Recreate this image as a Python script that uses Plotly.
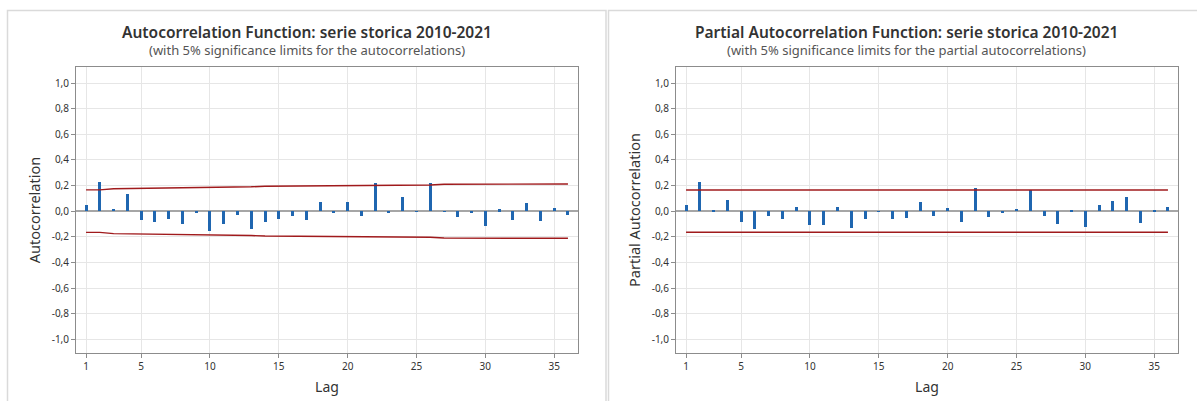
import plotly.graph_objects as go

# ---------------- data ----------------
lags = list(range(1, 37))

acf = [0.045, 0.225, 0.020, 0.135, -0.070, -0.088, -0.065, -0.098, -0.016, -0.157,
       -0.103, -0.032, -0.139, -0.083, -0.064, -0.040, -0.072, 0.072, -0.016, 0.075,
       -0.035, 0.216, -0.016, 0.109, -0.003, 0.219, -0.003, -0.043, -0.008, -0.112,
       0.013, -0.067, 0.064, -0.080, 0.024, -0.027]

acf_limit = [0.166, 0.166, 0.175, 0.176, 0.177, 0.178, 0.179, 0.180, 0.186, 0.187,
             0.188, 0.189, 0.190, 0.194, 0.195, 0.195, 0.196, 0.196, 0.197, 0.197,
             0.197, 0.198, 0.203, 0.203, 0.204, 0.204, 0.210, 0.210, 0.210, 0.211,
             0.211, 0.211, 0.211, 0.212, 0.212, 0.212]

pacf = [0.048, 0.225, 0.003, 0.085, -0.085, -0.139, -0.035, -0.064, 0.035, -0.107,
        -0.109, 0.029, -0.128, -0.059, -0.003, -0.061, -0.056, 0.072, -0.037, 0.024,
        -0.085, 0.181, -0.043, -0.010, 0.019, 0.165, -0.040, -0.101, 0.008, -0.125,
        0.051, 0.080, 0.107, -0.093, 0.010, 0.029]

pacf_limit = [0.165] * 36

x_tickvals = [1, 5, 10, 15, 20, 25, 30, 35]
x_ticktext = ["1", "5", "10", "15", "20", "25", "30", "35"]
y_tickvals = [-1.0, -0.8, -0.6, -0.4, -0.2, 0.0, 0.2, 0.4, 0.6, 0.8, 1.0]
y_ticktext = ["-1,0", "-0,8", "-0,6", "-0,4", "-0,2", "0,0", "0,2", "0,4", "0,6", "0,8", "1,0"]

titles = ["Autocorrelation Function: serie storica 2010-2021",
          "Partial Autocorrelation Function: serie storica 2010-2021"]
subtitles = ["(with 5% significance limits for the autocorrelations)",
             "(with 5% significance limits for the partial autocorrelations)"]
ytitles = ["Autocorrelation", "Partial Autocorrelation"]

# ---------------- figure ----------------
W, H = 1197, 401
FONT = "Noto Sans"
BAR = "#1F66B0"
RED = "#A01A1C"

fig = go.Figure()

series = [(acf, acf_limit), (pacf, pacf_limit)]
for i, (vals, lim) in enumerate(series):
    xa = "x" if i == 0 else "x2"
    ya = "y" if i == 0 else "y2"
    fig.add_trace(go.Bar(x=lags, y=vals, width=0.22, marker=dict(color=BAR, line=dict(width=0)),
                         xaxis=xa, yaxis=ya, showlegend=False, hoverinfo="x+y"))
    fig.add_trace(go.Scatter(x=lags, y=lim, mode="lines", line=dict(color=RED, width=1.4),
                             xaxis=xa, yaxis=ya, showlegend=False, hoverinfo="skip"))
    fig.add_trace(go.Scatter(x=lags, y=[-v for v in lim], mode="lines", line=dict(color=RED, width=1.4),
                             xaxis=xa, yaxis=ya, showlegend=False, hoverinfo="skip"))

px = lambda v: v / W
py = lambda v: 1 - v / H

xdomains = [[px(76), px(578)], [px(676), px(1178)]]
ydomain = [py(353), py(67)]

common_x = dict(range=[0.27, 36.73], tickmode="array", tickvals=x_tickvals, ticktext=x_ticktext,
                showgrid=True, gridcolor="#E6E6E6", gridwidth=1, zeroline=False,
                showline=True, linecolor="#8C8C8C", linewidth=1, mirror=True,
                ticks="outside", ticklen=4, tickcolor="#8C8C8C",
                tickfont=dict(family=FONT, size=10, color="#333333"),
                title=dict(text="Lag", font=dict(family=FONT, size=14, color="#333333"), standoff=10))
common_y = dict(range=[-1.107, 1.125], tickmode="array", tickvals=y_tickvals, ticktext=y_ticktext,
                showgrid=True, gridcolor="#E6E6E6", gridwidth=1,
                zeroline=True, zerolinecolor="#A6A6A6", zerolinewidth=2,
                showline=True, linecolor="#8C8C8C", linewidth=1, mirror=True,
                ticks="outside", ticklen=4, tickcolor="#8C8C8C",
                tickfont=dict(family=FONT, size=10, color="#333333"),
                domain=ydomain)

fig.update_layout(
    width=W, height=H, margin=dict(l=0, r=0, t=0, b=0),
    paper_bgcolor="white", plot_bgcolor="white", bargap=0,
    xaxis=dict(domain=xdomains[0], anchor="y", **common_x),
    yaxis=dict(anchor="x", title=dict(text=ytitles[0], font=dict(family=FONT, size=14.5, color="#333333"), standoff=7), **common_y),
    xaxis2=dict(domain=xdomains[1], anchor="y2", **common_x),
    yaxis2=dict(anchor="x2", title=dict(text=ytitles[1], font=dict(family=FONT, size=14.5, color="#333333"), standoff=7), **common_y),
    showlegend=False,
)

# panel frames
fig.add_shape(type="rect", xref="paper", yref="paper", x0=px(7.5), x1=px(606), y0=py(402), y1=py(10.5),
              line=dict(color="#DADADA", width=1.5), fillcolor="rgba(0,0,0,0)", layer="below")
fig.add_shape(type="rect", xref="paper", yref="paper", x0=px(608.5), x1=px(1199), y0=py(402), y1=py(10.5),
              line=dict(color="#DADADA", width=1.5), fillcolor="rgba(0,0,0,0)", layer="below")

centers = [307, 906]
for i in range(2):
    fig.add_annotation(x=px(centers[i]), y=py(32), xref="paper", yref="paper", showarrow=False,
                       text=titles[i], xanchor="center", yanchor="middle",
                       font=dict(family=FONT, size=15.5, color="#333333", weight=600))
    fig.add_annotation(x=px(centers[i]), y=py(49.5), xref="paper", yref="paper", showarrow=False,
                       text=subtitles[i], xanchor="center", yanchor="middle",
                       font=dict(family=FONT, size=13, color="#555555"))

fig.write_html("out.html")
